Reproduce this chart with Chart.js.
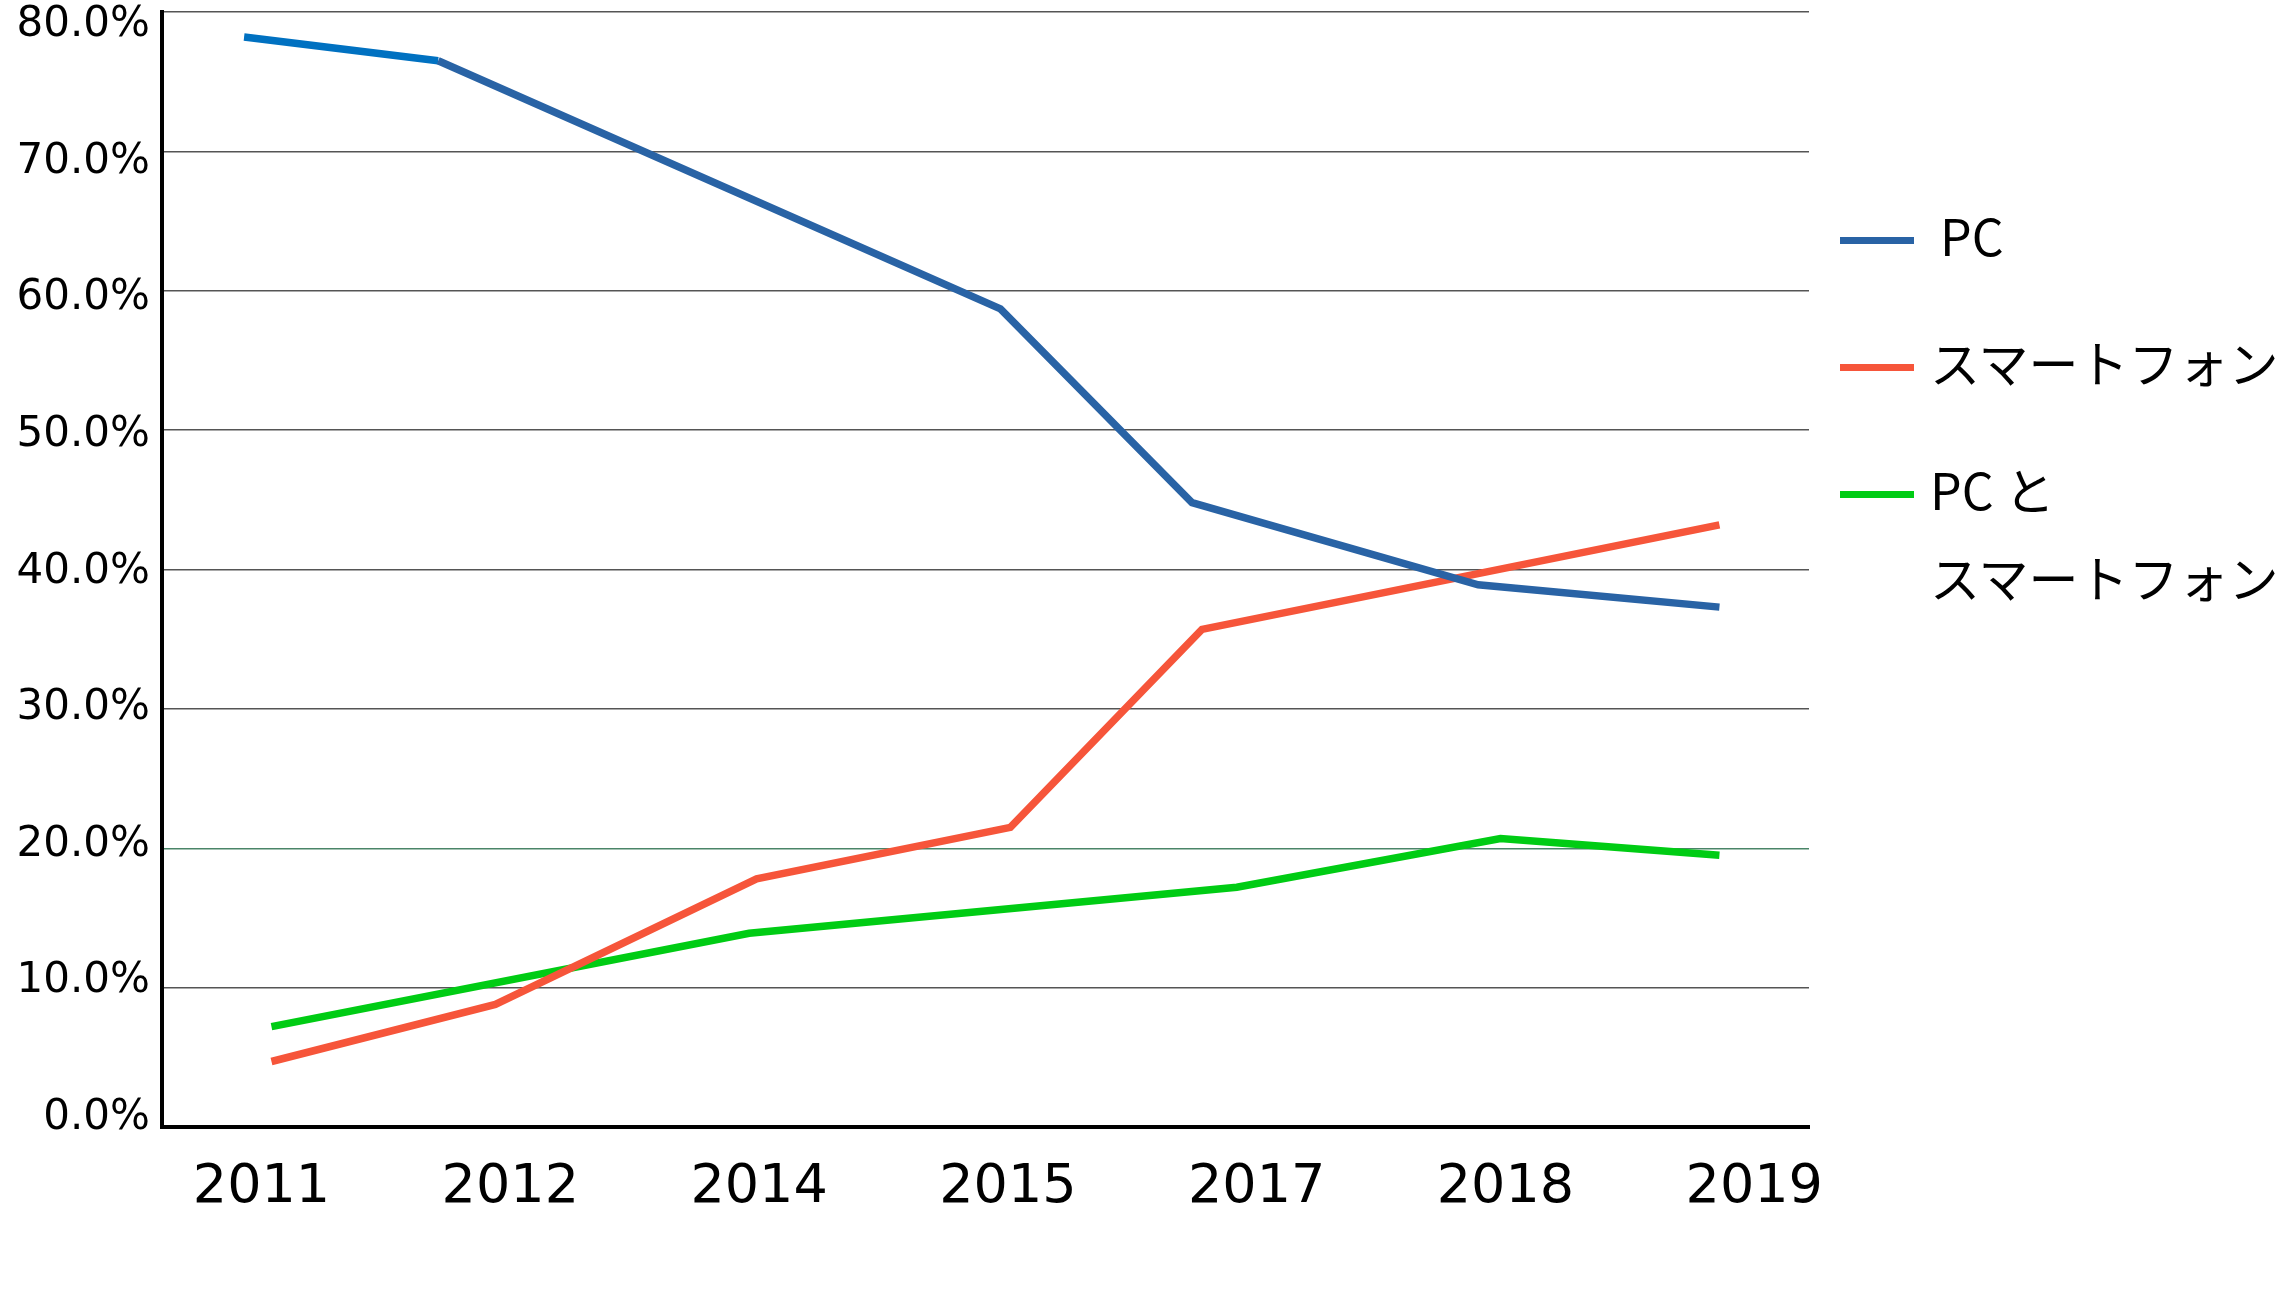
<!DOCTYPE html>
<html lang="ja">
<head>
<meta charset="utf-8">
<script src="https://cdn.jsdelivr.net/npm/chart.js@4.4.1/dist/chart.umd.min.js"></script>
<style>
    body { margin: 0; background: #fff; }
    #wrap { position: relative; width: 2281px; height: 1290px; }
    #legend {
        position: absolute;
        left: 1840px;
        top: 197px;
        font-family: "Noto Sans CJK JP", sans-serif;
        font-size: 50px;
        color: #000;
    }
    .legend-item { display: flex; align-items: flex-start; margin-bottom: 46px; }
    .legend-swatch { width: 74px; height: 7px; margin-top: 40px; flex: none; }
    .legend-text { margin-left: 16px; margin-top: -7px; line-height: 88px; white-space: pre; }
</style>
</head>
<body>
<div id="wrap">
    <canvas id="chart" width="2281" height="1290"></canvas>
    <div id="legend"></div>
</div>
<script>
const years = ['2011', '2012', '2014', '2015', '2017', '2018', '2019'];

// posição de cada ponto em unidades de rótulo (os pontos não caem exatamente sobre os anos)
const pcPos = [-0.07, 0.71, 2.97, 3.74, 4.89, 5.86];
const pcShare = [78.2, 76.5, 58.7, 44.8, 38.9, 37.3];

const phonePos = [0.04, 0.94, 1.99, 3.01, 3.78, 5.86];
const phoneShare = [4.7, 8.8, 17.8, 21.5, 35.7, 43.2];

const bothPos = [0.04, 1.96, 3.92, 4.98, 5.86];
const bothShare = [7.2, 13.9, 17.2, 20.7, 19.5];

const seriesNames = ['PC', 'スマートフォン', 'PC と\nスマートフォン'];
const cores = ['#2963a5', '#f6553a', '#00cc14'];

function toPoints(pos, vals) {
    return pos.map((x, i) => ({ x: x, y: vals[i] }));
}

// no original os rótulos do eixo y ficam um pouco mais juntos que as linhas de grade
const yLabelShift = {
    id: 'yLabelShift',
    beforeDraw(chart) {
        const scale = chart.scales.y;
        const items = scale.getLabelItems();
        if (items._shifted) return;
        items.forEach((item, i) => {
            const v = scale.ticks[i].value;
            item.options.translation[1] += -9 + 0.28 * v;
        });
        items._shifted = true;
    }
};

const ctx = document.getElementById('chart');

const chart = new Chart(ctx, {
    type: 'line',
    data: {
        datasets: [
            {
                label: seriesNames[0],
                data: toPoints(pcPos, pcShare),
                borderColor: cores[0],
                // o primeiro trecho é um azul mais claro no original
                segment: {
                    borderColor: c => c.p0DataIndex === 0 ? '#0071c1' : undefined
                }
            },
            {
                label: seriesNames[1],
                data: toPoints(phonePos, phoneShare),
                borderColor: cores[1]
            },
            {
                label: seriesNames[2],
                data: toPoints(bothPos, bothShare),
                borderColor: cores[2]
            }
        ]
    },
    options: {
        responsive: false,
        animation: false,
        devicePixelRatio: 1,
        layout: {
            padding: { top: 12, right: 472, bottom: 0, left: 0 }
        },
        elements: {
            line: { borderWidth: 7.5, tension: 0, borderCapStyle: 'butt', borderJoinStyle: 'miter' },
            point: { radius: 0, hoverRadius: 0 }
        },
        plugins: {
            legend: { display: false },
            tooltip: { enabled: false }
        },
        scales: {
            x: {
                type: 'linear',
                min: -0.4,
                max: 6.22,
                grid: { display: false, drawTicks: false },
                border: { display: true, color: '#000', width: 4 },
                ticks: {
                    color: '#000',
                    padding: 29,
                    font: { family: 'DejaVu Sans', size: 54 },
                    callback: v => years[v] || ''
                },
                afterBuildTicks: scale => {
                    scale.ticks = years.map((_, i) => ({ value: i }));
                },
                afterFit: scale => {
                    scale.height = 163;
                    scale.paddingLeft = 0;
                    scale.paddingRight = 0;
                }
            },
            y: {
                min: 0,
                max: 80,
                grid: {
                    drawTicks: false,
                    lineWidth: 1.5,
                    color: c => c.tick && c.tick.value === 20 ? '#4a8568' : '#555555'
                },
                border: { display: true, color: '#000', width: 4 },
                ticks: {
                    stepSize: 10,
                    color: '#000',
                    padding: 12,
                    font: { family: 'DejaVu Sans', size: 42 },
                    callback: v => v.toFixed(1) + '%'
                },
                afterFit: scale => {
                    scale.width = 162;
                    scale.paddingTop = 0;
                    scale.paddingBottom = 0;
                }
            }
        }
    },
    plugins: [yLabelShift]
});

// legenda em HTML, à direita do gráfico
const legend = document.getElementById('legend');
chart.data.datasets.forEach((ds, i) => {
    const item = document.createElement('div');
    item.className = 'legend-item';

    const swatch = document.createElement('div');
    swatch.className = 'legend-swatch';
    swatch.style.background = ds.borderColor;
    item.appendChild(swatch);

    const text = document.createElement('div');
    text.className = 'legend-text';
    text.textContent = ds.label;
    if (i === 0) text.style.marginLeft = '26px';
    item.appendChild(text);

    legend.appendChild(item);
});
</script>
</body>
</html>
